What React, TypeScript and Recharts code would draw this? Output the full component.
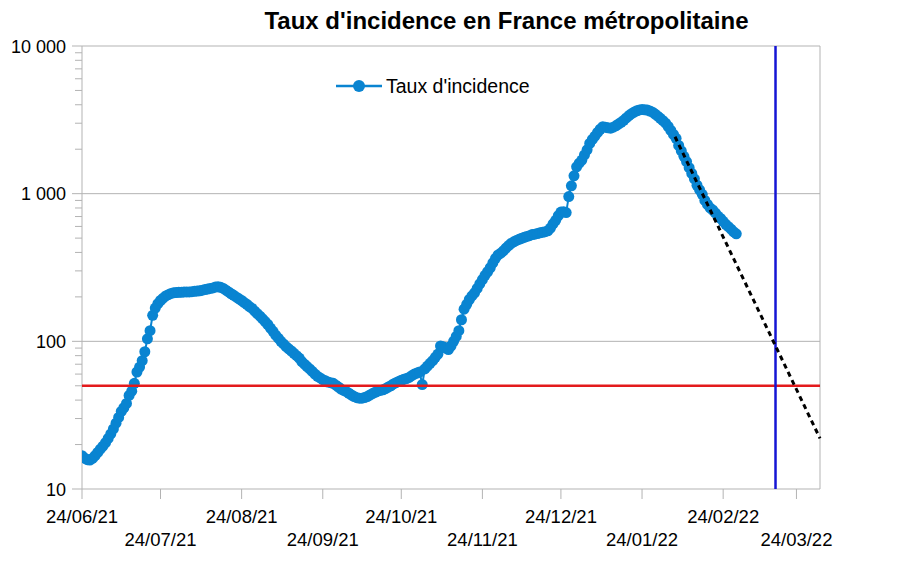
import { LineChart, Line, XAxis, YAxis, ReferenceLine } from 'recharts';

// jour 0 = 24/06/21, une valeur par jour
const tauxIncidence = [
  16.8, 16.2, 15.8, 15.7, 16.1, 16.8, 17.7, 18.6, 19.5, 20.6,
  22.0, 23.6, 25.5, 27.9, 30.5, 33.5, 35.5, 38, 43, 46,
  52, 62, 67, 74, 85, 104, 118, 150, 168, 180,
  189, 196, 203, 207, 211, 213, 214, 215, 215, 216,
  216, 216, 217, 218, 219, 220, 222, 224, 226, 228,
  230, 233, 234, 232, 228, 222, 216, 210, 205, 199,
  194, 189, 183, 178, 172, 167, 160, 154, 148, 142,
  136, 130, 123, 117, 110, 105, 100, 96, 92, 89,
  86, 83, 80, 77, 73, 70, 67.5, 65, 62.5, 60,
  58, 56.5, 55, 54, 53, 52.5, 52, 50.5, 49, 47.5,
  46.5, 45.7, 44.5, 43.3, 42.3, 41.5, 41.2, 41.2, 41.6, 42.3,
  43.3, 44.3, 45.2, 46, 46.5, 47, 47.8, 49, 50, 51.5,
  52.5, 53.5, 54.5, 55.3, 56, 57, 58.5, 60, 61, 62,
  51, 65, 68, 71, 74, 78, 82, 93, 92, 90,
  88, 93, 100, 108, 118, 140, 165, 178, 192, 203,
  213, 228, 245, 262, 280, 296, 315, 340, 365, 385,
  395, 410, 428, 445, 460, 472, 482, 491, 499, 506,
  513, 519, 528, 532, 537, 543, 548, 553, 560, 585,
  625, 660, 710, 750, 755, 745, 955, 1130, 1320, 1520,
  1610, 1690, 1830, 1980, 2190, 2330, 2450, 2600, 2730, 2840,
  2820, 2790, 2775, 2820, 2880, 2960, 3040, 3140, 3260, 3380,
  3480, 3570, 3640, 3690, 3710, 3700, 3680, 3630, 3560, 3460,
  3350, 3240, 3120, 3000, 2850, 2680, 2520, 2370, 2120, 1950,
  1790, 1650, 1500, 1370, 1260, 1140, 1060, 990, 900, 845,
  800, 775, 740, 705, 680, 650, 620, 598, 575, 552,
  535,
];

// tendance exponentielle (pointillés)
const trendDays = [226.6, 282];
const trendValues = [2430, 22];

const seuilAlerte = 50;
const jourLimite = 265;
const xMax = 282;

const xTickDays = [0, 30, 61, 92, 122, 153, 183, 214, 245, 273];
const xTickLabels = ['24/06/21', '24/07/21', '24/08/21', '24/09/21', '24/10/21', '24/11/21', '24/12/21', '24/01/22', '24/02/22', '24/03/22'];

const yMajorTicks = [10, 100, 1000, 10000];
const yTickLabels = ['10', '100', '1 000', '10 000'];
const yMinorSteps = [2, 3, 4, 5, 6, 7, 8, 9];

const BLUE = '#0984d1';
const GRID = '#b3b3b3';
const FONT = '"Liberation Sans", Arial, sans-serif';

const rows = tauxIncidence.map((v, i) => ({ day: i, taux: v }));

const yTicks = [
  ...yMajorTicks.slice(0, 3).flatMap((m) => [m, ...yMinorSteps.map((s) => m * s)]),
  10000,
];

const XTick = (props: any) => {
  const { x, y, payload } = props;
  const idx = xTickDays.indexOf(payload.value);
  const row = idx % 2;
  return (
    <g>
      <line x1={x} y1={y} x2={x} y2={y + 10} stroke={GRID} />
      <text x={x} y={y + 34 + row * 23} textAnchor="middle" fontSize={18.5} fill="#000" fontFamily={FONT}>
        {xTickLabels[idx]}
      </text>
    </g>
  );
};

const YTick = (props: any) => {
  const { x, y, payload } = props;
  const idx = yMajorTicks.indexOf(payload.value);
  const major = idx >= 0;
  return (
    <g>
      <line x1={x - (major ? 10 : 7)} y1={y} x2={x} y2={y} stroke={GRID} />
      {major && (
        <text x={x - 16} y={y} dy={6.5} textAnchor="end" fontSize={18} fill="#000" fontFamily={FONT}>
          {yTickLabels[idx]}
        </text>
      )}
    </g>
  );
};

export default function App() {
  return (
    <div style={{ position: 'absolute', left: 0, top: 0, width: 901, height: 563, background: '#fff', fontFamily: FONT }}>
      <div style={{ position: 'absolute', left: 0, width: 1013, top: 7, textAlign: 'center', fontSize: 24, fontWeight: 'bold', color: '#000' }}>
        Taux d'incidence en France métropolitaine
      </div>
      <div style={{ position: 'absolute', left: 336, top: 74, display: 'flex', alignItems: 'center', zIndex: 2 }}>
        <svg width={46} height={24}>
          <line x1={0} y1={12} x2={46} y2={12} stroke={BLUE} strokeWidth={2.5} />
          <circle cx={23} cy={12} r={6} fill={BLUE} />
        </svg>
        <span style={{ fontSize: 19.5, marginLeft: 4, color: '#000' }}>Taux d'incidence</span>
      </div>
      <LineChart width={901} height={563} data={rows} margin={{ top: 46, right: 81, bottom: 0, left: 0 }}>
        <XAxis
          type="number"
          dataKey="day"
          domain={[0, xMax]}
          ticks={xTickDays}
          interval={0}
          tick={<XTick />}
          tickLine={false}
          tickSize={0}
          tickMargin={0}
          axisLine={{ stroke: GRID }}
          allowDataOverflow
          height={74}
        />
        <YAxis
          scale="log"
          domain={[10, 10000]}
          ticks={yTicks}
          interval={0}
          tick={<YTick />}
          tickLine={false}
          tickSize={0}
          tickMargin={0}
          axisLine={{ stroke: GRID }}
          allowDataOverflow
          width={82}
        />
        <ReferenceLine y={1000} stroke={GRID} />
        <ReferenceLine y={100} stroke={GRID} />
        <ReferenceLine y={10000} stroke={GRID} />
        <ReferenceLine x={xMax} stroke={GRID} />
        <Line
          dataKey="taux"
          stroke={BLUE}
          strokeWidth={2}
          dot={{ r: 5.5, fill: BLUE, stroke: BLUE, strokeWidth: 0 }}
          activeDot={false}
          isAnimationActive={false}
        />
        <ReferenceLine y={seuilAlerte} stroke="#e31a1c" strokeWidth={2.5} zIndex={1000} />
        <ReferenceLine x={jourLimite} stroke="#1515d4" strokeWidth={2.5} zIndex={1000} />
        <ReferenceLine
          segment={[
            { x: trendDays[0], y: trendValues[0] },
            { x: trendDays[1], y: trendValues[1] },
          ]}
          stroke="#000"
          strokeWidth={3}
          strokeDasharray="5 4"
          zIndex={1000}
        />
      </LineChart>
    </div>
  );
}
